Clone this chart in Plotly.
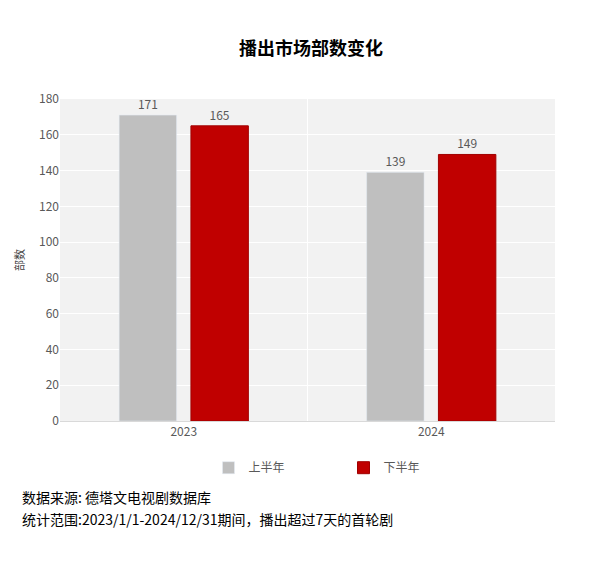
import plotly.graph_objects as go

years = ["2023", "2024"]
first_half = [171, 139]
second_half = [165, 149]
series_names = ["上半年", "下半年"]
title = "播出市场部数变化"
footer_lines = ["数据来源: 德塔文电视剧数据库", "统计范围:2023/1/1-2024/12/31期间，播出超过7天的首轮剧"]

font = "Noto Sans CJK SC"
fig = go.Figure()
fig.add_bar(x=years, y=first_half, name=series_names[0], marker_color="#bfbfbf",
            text=first_half, textposition="outside", textfont=dict(color="#595959", size=12))
fig.add_bar(x=years, y=second_half, name=series_names[1], marker_color="#c00000",
            marker_line=dict(color="#a00000", width=1),
            text=second_half, textposition="outside", textfont=dict(color="#595959", size=12))
fig.add_shape(type="line", xref="x", yref="paper", x0=0.5, x1=0.5, y0=0, y1=1,
              line=dict(color="#ffffff", width=1))
fig.update_layout(
    width=606, height=567, paper_bgcolor="white", plot_bgcolor="#f2f2f2",
    font=dict(family=font, color="#595959", size=12),
    margin=dict(l=52, r=59, t=91, b=154),
    barmode="group", bargap=0.42, bargroupgap=0.2,
    title=dict(text="<b>" + title + "</b>", x=0.5, xanchor="center", y=0.94,
               font=dict(size=18, color="#000000", family=font)),
    xaxis=dict(type="category", showline=True, linecolor="#d9d9d9", ticks="",
               tickfont=dict(size=12, color="#595959")),
    yaxis=dict(range=[0, 180], dtick=20, gridcolor="#ffffff", zeroline=False,
               title=dict(text="部数", font=dict(size=11, color="#404040"), standoff=12),
               tickfont=dict(size=12, color="#595959")),
    legend=dict(orientation="h", x=0.3, xanchor="left", y=-0.1, yanchor="top",
                font=dict(size=12, color="#595959"), itemwidth=30, entrywidth=90),
    showlegend=True,
)
for i, line in enumerate(footer_lines):
    fig.add_annotation(text=line, xref="paper", yref="paper", x=-0.08, y=-0.2 - i * 0.068,
                       xanchor="left", yanchor="top", showarrow=False, align="left",
                       font=dict(size=14, color="#000000", family=font))
fig.write_html("out.html")
